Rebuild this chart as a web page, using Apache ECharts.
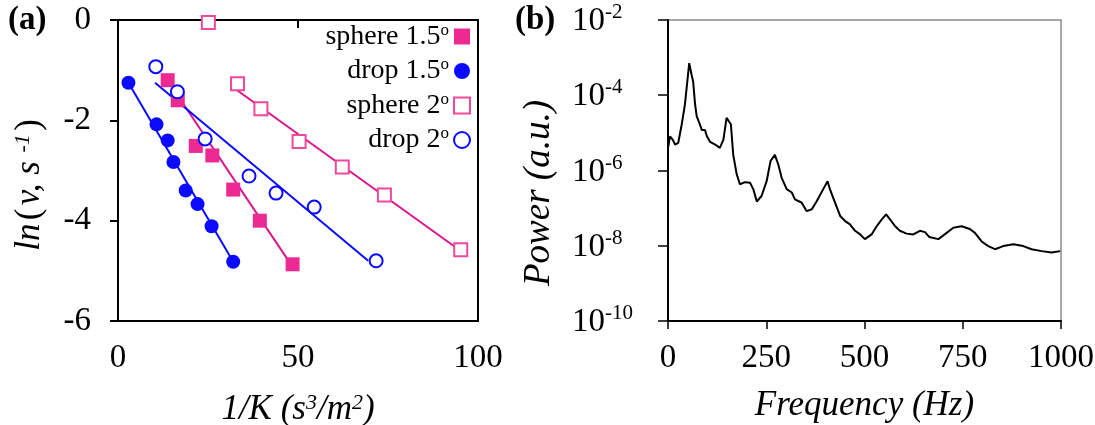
<!DOCTYPE html>
<html>
<head>
<meta charset="utf-8">
<script src="https://cdn.jsdelivr.net/npm/echarts@6/dist/echarts.min.js"></script>
<style>html,body{margin:0;padding:0;background:#fff}#c{width:1095px;height:425px}</style>
</head>
<body>
<div id="c"></div>
<script>
// Panel (a) data
var sphere15X = [13.8, 16.6, 21.6, 26.2, 32.0, 39.4, 48.5];
var sphere15Y = [-1.2, -1.6, -2.51, -2.7, -3.38, -4.0, -4.87];
var drop15X = [2.9, 10.7, 13.8, 15.4, 18.8, 22.1, 26.0, 32.0];
var drop15Y = [-1.25, -2.08, -2.4, -2.83, -3.4, -3.67, -4.11, -4.82];
var sphere2X = [25.1, 33.2, 39.7, 50.3, 62.3, 74.0, 95.2];
var sphere2Y = [-0.05, -1.27, -1.77, -2.42, -2.93, -3.49, -4.58];
var drop2X = [10.5, 16.5, 24.2, 36.4, 43.9, 54.5, 71.7];
var drop2Y = [-0.93, -1.43, -2.37, -3.11, -3.45, -3.73, -4.8];
// fitted lines (end points)
var sphere15FitX = [13.0, 48.5], sphere15FitY = [-1.12, -4.92];
var drop15FitX = [2.9, 32.0], drop15FitY = [-1.25, -4.82];
var sphere2FitX = [32.5, 95.5], sphere2FitY = [-1.37, -4.62];
var drop2FitX = [10.3, 69.5], drop2FitY = [-1.25, -4.8];
var seriesNames = ['sphere 1.5', 'drop 1.5', 'sphere 2', 'drop 2'];

// Panel (b) data
var freq = [1,5,12,18,26,35,43,54,60,64,
  69,73,80,86,94,99,107,120,132,141,
  149,153,160,166,175,183,196,209,217,226,
  238,251,261,272,281,289,302,315,323,334,
  340,353,366,378,395,406,412,425,438,450,
  463,476,489,501,518,531,544,555,565,578,
  590,607,624,641,654,665,688,709,726,747,
  768,781,798,815,832,853,879,904,925,951,
  976,998];
var power = [4.4e-6,8.1e-6,6.6e-6,4.9e-6,5.4e-6,1.7e-5,5.6e-5,7.1e-4,3.5e-4,2.3e-4,
  5.6e-5,2.8e-5,1.8e-5,1.2e-5,1.2e-5,8.1e-6,5.8e-6,4.9e-6,4.0e-6,6.6e-6,
  2.5e-5,2.8e-5,1.7e-5,2.6e-6,7.8e-7,4.3e-7,4.9e-7,4.7e-7,3.2e-7,1.5e-7,
  2.1e-7,5.2e-7,1.8e-6,2.6e-6,1.4e-6,6.5e-7,3.2e-7,2.6e-7,1.7e-7,1.5e-7,
  1.4e-7,8.3e-8,9.3e-8,1.5e-7,3.2e-7,5.2e-7,3.2e-7,1.4e-7,6.2e-8,4.6e-8,
  3.7e-8,2.5e-8,2.0e-8,1.5e-8,2.0e-8,3.3e-8,5.0e-8,6.8e-8,5.0e-8,3.3e-8,
  2.5e-8,2.1e-8,2.0e-8,2.5e-8,2.3e-8,1.7e-8,1.5e-8,2.2e-8,3.0e-8,3.3e-8,
  2.8e-8,2.2e-8,1.3e-8,9.8e-9,8.1e-9,9.8e-9,1.1e-8,9.8e-9,8.1e-9,7.2e-9,
  6.6e-9,7.2e-9];

function zip(a, b) { return a.map(function (v, i) { return [v, b[i]]; }); }

var FONT = 'Liberation Serif';
var MAG = '#d9158b', PINK = '#f0489b', BLUE = '#0a0aff';
var TICK = 33, TITLE = 35;

var chart = echarts.init(document.getElementById('c'));
chart.setOption({
  animation: false,
  backgroundColor: '#fff',
  textStyle: { fontFamily: FONT, color: '#000' },
  grid: [
    { left: 118, top: 20, width: 360, height: 301, show: true, borderColor: '#000', borderWidth: 2, backgroundColor: 'transparent', containLabel: false, outerBoundsMode: 'none' },
    { left: 668, top: 20, width: 393, height: 301, show: true, borderColor: '#8a8a8a', borderWidth: 1.5, backgroundColor: 'transparent', containLabel: false, outerBoundsMode: 'none' }
  ],
  xAxis: [
    { gridIndex: 0, type: 'value', min: 0, max: 100, interval: 50,
      axisLine: { lineStyle: { color: '#000', width: 2 } },
      axisTick: { inside: false, length: 8, lineStyle: { color: '#000', width: 2 } },
      splitLine: { show: false },
      axisLabel: { fontSize: TICK, fontFamily: FONT, color: '#000', margin: 21 },
      name: '{i|1/K (s}{s|3}{i|/m}{s|2}{i|)}', nameLocation: 'middle', nameGap: 71,
      nameTextStyle: { rich: {
        i: { fontSize: TITLE, fontStyle: 'italic', fontFamily: FONT, color: '#000', lineHeight: 36 },
        s: { fontSize: 22, fontStyle: 'italic', fontFamily: FONT, color: '#000', verticalAlign: 'top', lineHeight: 36 } } } },
    { gridIndex: 1, type: 'value', min: 0, max: 1000, interval: 250,
      axisLine: { lineStyle: { color: '#000', width: 2 } },
      axisTick: { inside: false, length: 8, lineStyle: { color: '#000', width: 1.5 } },
      splitLine: { show: false },
      axisLabel: { fontSize: TICK, fontFamily: FONT, color: '#000', margin: 21,
        formatter: function (v) { return String(v); } },
      name: 'Frequency (Hz)', nameLocation: 'middle', nameGap: 67,
      nameTextStyle: { fontSize: TITLE, fontStyle: 'italic', fontFamily: FONT, color: '#000' } }
  ],
  yAxis: [
    { gridIndex: 0, type: 'value', min: -6, max: 0, interval: 2,
      axisLine: { lineStyle: { color: '#000', width: 2 } },
      axisTick: { inside: false, length: 8, lineStyle: { color: '#000', width: 2 } },
      splitLine: { show: false },
      axisLabel: { fontSize: TICK, fontFamily: FONT, color: '#000', margin: 27 } },
    { gridIndex: 1, type: 'log', logBase: 10, min: 1e-10, max: 1e-2, interval: 2,
      axisLine: { lineStyle: { color: '#000', width: 2 } },
      axisTick: { inside: false, length: 10, lineStyle: { color: '#000', width: 1.5 } },
      splitLine: { show: false },
      axisLabel: { margin: 96, align: 'left', color: '#000',
        formatter: function (v) { var e = Math.round(Math.log10(v)); return '{b|10}{s|' + e + '}'; },
        rich: {
          b: { fontSize: TICK, fontFamily: FONT, color: '#000', lineHeight: 36, verticalAlign: 'bottom' },
          s: { fontSize: 21, fontFamily: FONT, color: '#000', lineHeight: 36, verticalAlign: 'top' } } } }
  ],
  legend: {
    data: seriesNames, orient: 'vertical', right: 624, top: 22, align: 'right', padding: 0,
    itemWidth: 16, itemHeight: 16, itemGap: 6,
    formatter: function (n) { return '{t|' + n + '}{s|o}'; },
    textStyle: { rich: {
      t: { fontSize: 28, fontFamily: FONT, color: '#000', lineHeight: 29 },
      s: { fontSize: 17, fontFamily: FONT, color: '#000', verticalAlign: 'top', lineHeight: 29 } } }
  },
  graphic: [
    { type: 'text', left: 8, top: 4, style: { text: '(a)', fontSize: 33, fontWeight: 'bold', fontFamily: FONT, fill: '#000' } },
    { type: 'text', left: 515, top: 4, style: { text: '(b)', fontSize: 33, fontWeight: 'bold', fontFamily: FONT, fill: '#000' } },
    { type: 'text', x: 30, y: 185, rotation: Math.PI / 2, style: {
        text: '{i|ln} {r|(} {i|v, s }{s|-1} {r|)}', align: 'center', verticalAlign: 'middle',
        rich: {
          i: { fontSize: TITLE, fontStyle: 'italic', fontFamily: FONT, fill: '#000', lineHeight: 36 },
          r: { fontSize: TITLE, fontFamily: FONT, fill: '#000', lineHeight: 36 },
          s: { fontSize: 22, fontStyle: 'italic', fontFamily: FONT, fill: '#000', verticalAlign: 'top', lineHeight: 36 } } } },
    { type: 'text', x: 539, y: 193, rotation: Math.PI / 2, style: {
        text: 'Power (a.u.)', align: 'center', verticalAlign: 'middle',
        fontSize: 37, fontStyle: 'italic', fontFamily: FONT, fill: '#000' } }
  ],
  series: [
    { name: 'sphere 1.5 fit', type: 'line', xAxisIndex: 0, yAxisIndex: 0, data: zip(sphere15FitX, sphere15FitY), showSymbol: false, symbol: 'none', lineStyle: { color: MAG, width: 2 }, z: 1 },
    { name: 'drop 1.5 fit', type: 'line', xAxisIndex: 0, yAxisIndex: 0, data: zip(drop15FitX, drop15FitY), showSymbol: false, symbol: 'none', lineStyle: { color: BLUE, width: 2 }, z: 1 },
    { name: 'sphere 2 fit', type: 'line', xAxisIndex: 0, yAxisIndex: 0, data: zip(sphere2FitX, sphere2FitY), showSymbol: false, symbol: 'none', lineStyle: { color: MAG, width: 2 }, z: 1 },
    { name: 'drop 2 fit', type: 'line', xAxisIndex: 0, yAxisIndex: 0, data: zip(drop2FitX, drop2FitY), showSymbol: false, symbol: 'none', lineStyle: { color: BLUE, width: 2 }, z: 1 },
    { name: 'sphere 1.5', type: 'scatter', xAxisIndex: 0, yAxisIndex: 0, data: zip(sphere15X, sphere15Y), symbol: 'rect', symbolSize: 14, itemStyle: { color: '#ec2a92', opacity: 1 }, z: 3 },
    { name: 'drop 1.5', type: 'scatter', xAxisIndex: 0, yAxisIndex: 0, data: zip(drop15X, drop15Y), symbol: 'circle', symbolSize: 14, itemStyle: { color: BLUE, opacity: 1 }, z: 3 },
    { name: 'sphere 2', type: 'scatter', xAxisIndex: 0, yAxisIndex: 0, data: zip(sphere2X, sphere2Y), symbol: 'rect', symbolSize: 13, itemStyle: { color: '#fff', borderColor: PINK, borderWidth: 2, opacity: 1 }, z: 3 },
    { name: 'drop 2', type: 'scatter', xAxisIndex: 0, yAxisIndex: 0, data: zip(drop2X, drop2Y), symbol: 'circle', symbolSize: 13, itemStyle: { color: '#fff', borderColor: BLUE, borderWidth: 2, opacity: 1 }, z: 3 },
    { name: 'spectrum', type: 'line', xAxisIndex: 1, yAxisIndex: 1, data: zip(freq, power), showSymbol: false, symbol: 'none', lineStyle: { color: '#000', width: 2 } }
  ]
});
</script>
</body>
</html>
